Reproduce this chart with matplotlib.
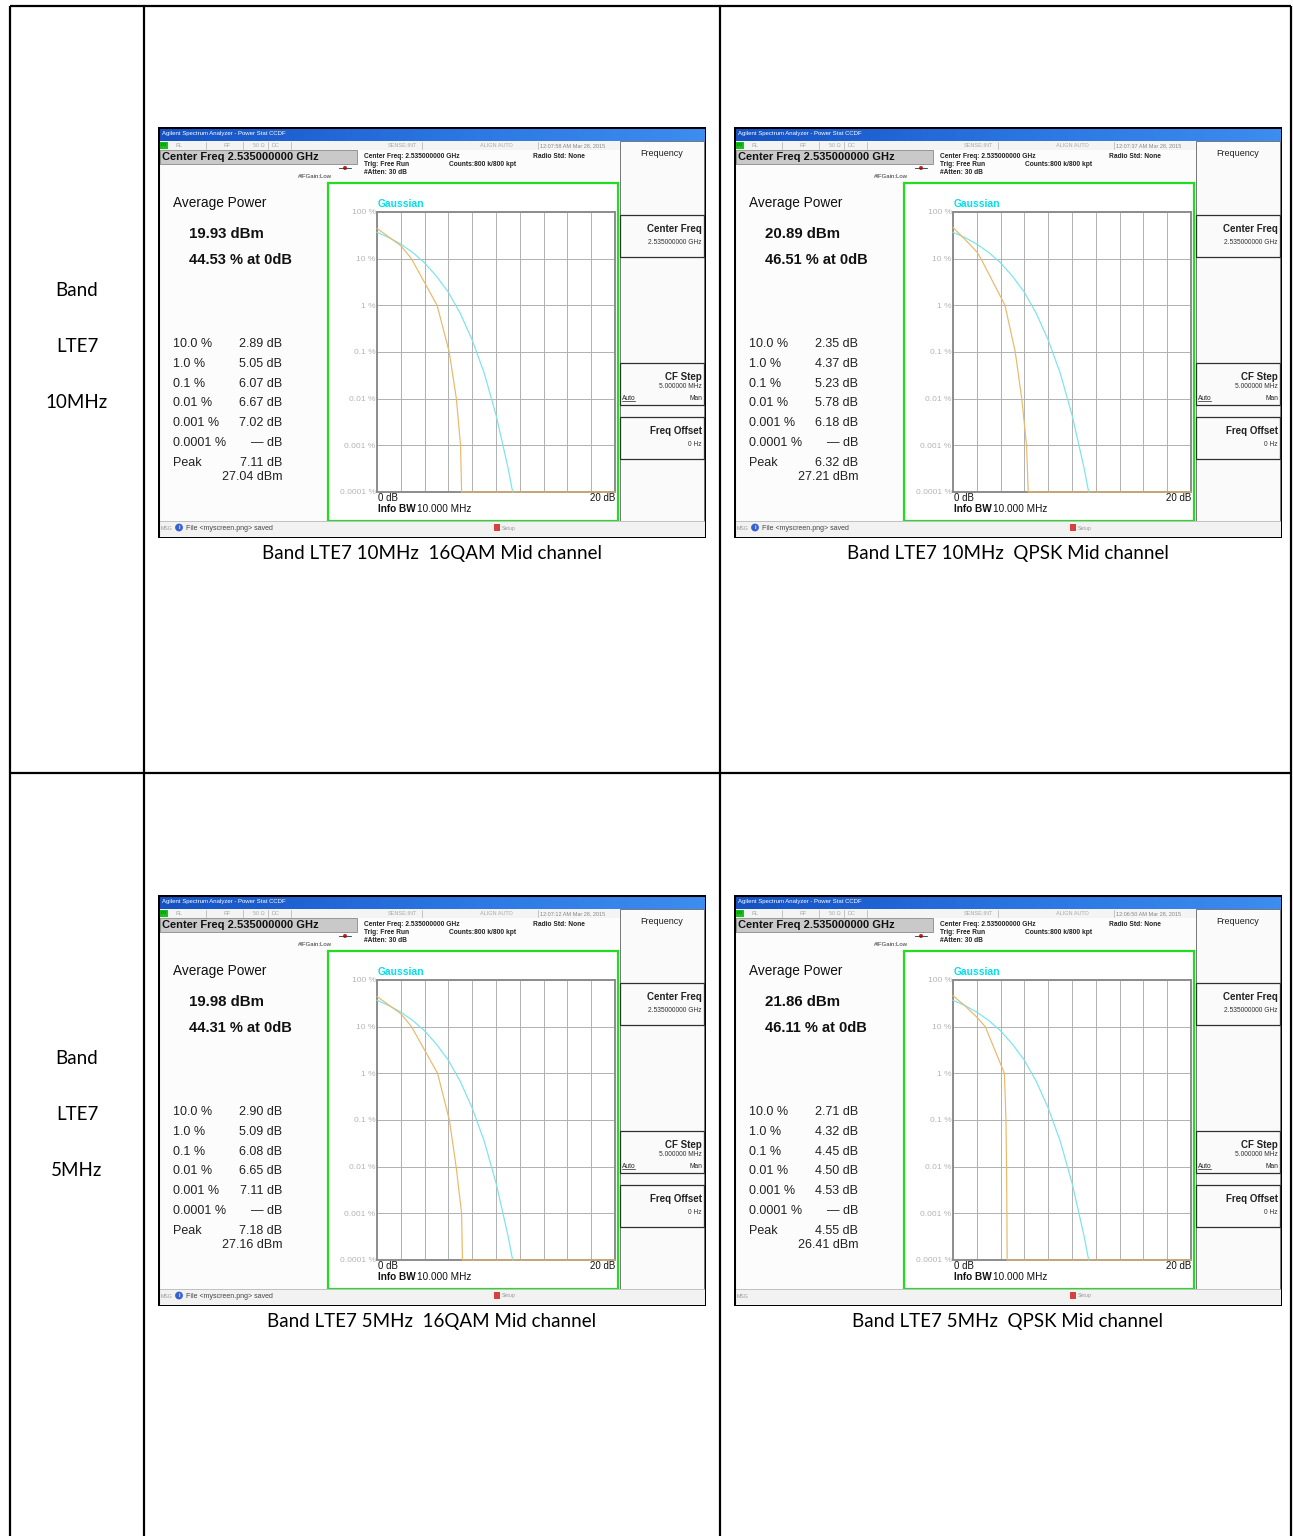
import numpy as np
import matplotlib
matplotlib.use("Agg")
import matplotlib.pyplot as plt
from matplotlib.patches import Rectangle, Circle
from matplotlib.colors import LinearSegmentedColormap

# CCDF measurements, one entry per screen (10MHz 16QAM, 10MHz QPSK, 5MHz 16QAM, 5MHz QPSK)
captions = ["Band LTE7 10MHz  16QAM Mid channel", "Band LTE7 10MHz  QPSK Mid channel",
            "Band LTE7 5MHz  16QAM Mid channel", "Band LTE7 5MHz  QPSK Mid channel"]
row_labels = [["Band", "LTE7", "10MHz"], ["Band", "LTE7", "5MHz"]]
avg_power = [19.93, 20.89, 19.98, 21.86]
pct_at_0db = [44.53, 46.51, 44.31, 46.11]
ccdf_levels = [10.0, 1.0, 0.1, 0.01, 0.001]
level_labels = ["10.0 %", "1.0 %", "0.1 %", "0.01 %", "0.001 %", "0.0001 %"]
ccdf_db = [[2.89, 5.05, 6.07, 6.67, 7.02],
           [2.35, 4.37, 5.23, 5.78, 6.18],
           [2.90, 5.09, 6.08, 6.65, 7.11],
           [2.71, 4.32, 4.45, 4.50, 4.53]]
peak_db = [7.11, 6.32, 7.18, 4.55]
peak_dbm = [27.04, 27.21, 27.16, 26.41]
# curve readings at 1 dB and 2 dB
early_pct = [[29, 19], [26, 14], [29, 19], [28, 16]]
times = ["12:07:58 AM Mar 28, 2015", "12:07:37 AM Mar 28, 2015",
         "12:07:12 AM Mar 28, 2015", "12:06:50 AM Mar 28, 2015"]
msgs = ["File <myscreen.png> saved", "File <myscreen.png> saved",
        "File <myscreen.png> saved", ""]

# Gaussian reference trace
gauss_db = [0, 1, 2, 3, 4, 5, 6, 7, 8, 9, 10, 11, 11.4]
gauss_pct = [36.8, 28.4, 20.5, 13.6, 8.1, 4.2, 1.9, 0.67, 0.18, 0.036, 0.0045, 0.00034, 0.0001]

W, H = 1293, 1536
fig = plt.figure(figsize=(W / 100, H / 100), dpi=100)
fig.patch.set_facecolor("white")

SCR = "Liberation Sans"
DOC = "Lato"


def rect(x, y, w, h):
    return [x / W, 1 - (y + h) / H, w / W, h / H]


# table grid
tab = fig.add_axes([0, 0, 1, 1])
tab.set_xlim(0, W)
tab.set_ylim(H, 0)
tab.axis("off")
for x in [10, 144, 720, 1291]:
    tab.plot([x, x], [6, H + 5], color="black", lw=1.6, solid_capstyle="butt")
for y in [6, 773]:
    tab.plot([10, 1291], [y, y], color="black", lw=1.6, solid_capstyle="butt")
for r, labels in enumerate(row_labels):
    for k, lab in enumerate(labels):
        tab.text(77, 290 + 768 * r + 56.5 * k, lab, ha="center", va="center",
                 fontsize=13.5, family=DOC)

origins = [(158, 127), (734, 127), (158, 895), (734, 895)]
blue = LinearSegmentedColormap.from_list("bar", ["#1552c4", "#2a74e0", "#3d8cf0"])


def screen(i, X, Y):
    ax = fig.add_axes(rect(X, Y, 548, 411))
    ax.axis("off")
    ax.add_patch(Rectangle((0, 0), 548, 411, facecolor="#fcfcfc", edgecolor="none", zorder=0.5))
    ax.imshow(np.linspace(0, 1, 64)[None, :], cmap=blue, extent=(0, 548, 14, 0),
              aspect="auto", zorder=2)
    ax.set_xlim(0, 548)
    ax.set_ylim(411, 0)
    t = dict(family=SCR, va="center")
    ax.text(4, 7, "Agilent Spectrum Analyzer - Power Stat CCDF", color="white", fontsize=4.3,
            zorder=3, **t)
    # status row
    ax.add_patch(Rectangle((0, 14), 462, 9, facecolor="#f4f4f4", edgecolor="none"))
    ax.add_patch(Rectangle((2, 15), 8, 7, facecolor="#18c018", edgecolor="none"))
    ax.text(3, 18.5, "LXI", color="#204020", fontsize=2.8, **t)
    for sx in [48, 85, 110, 133, 264, 380]:
        ax.plot([sx, sx], [15, 22], color="#b0b0b0", lw=0.5)
    for sx, s in [(17, "RL"), (66, "RF"), (95, "50 Ω"), (114, "DC"), (230, "SENSE:INT"),
                  (322, "ALIGN AUTO"), (382, times[i])]:
        ax.text(sx, 18.5, s, color="#a8a8a8" if sx < 380 else "#888888", fontsize=4, **t)
    # center frequency box
    ax.add_patch(Rectangle((2, 23), 197, 14, facecolor="#c9c9c9", edgecolor="#8a8a8a", lw=0.6))
    ax.text(4, 30.5, "Center Freq 2.535000000 GHz", fontsize=8, weight="bold", color="#111111", **t)
    ax.plot([181, 193], [41, 41], color="#333333", lw=0.6)
    ax.add_patch(Circle((187, 41), 1.3, color="#cc2020"))
    ax.text(140, 49, "#IFGain:Low", fontsize=4.3, color="#333333", **t)
    for yy, s in [(29, "Center Freq: 2.535000000 GHz"), (37, "Trig: Free Run"), (45, "#Atten: 30 dB")]:
        ax.text(206, yy, s, fontsize=4.8, weight="bold", color="#222222", **t)
    ax.text(291, 38, "Counts:800 k/800 kpt", fontsize=4.8, weight="bold", color="#222222", **t)
    ax.text(375, 29, "Radio Std: None", fontsize=4.8, weight="bold", color="#222222", **t)

    # measurement readout
    ax.text(15, 76, "Average Power", fontsize=9.8, color="#111111", **t)
    ax.text(31, 107, f"{avg_power[i]:.2f} dBm", fontsize=10.8, weight="bold", color="#111111", **t)
    ax.text(31, 133, f"{pct_at_0db[i]:.2f} % at 0dB", fontsize=10.5, weight="bold", color="#111111", **t)
    vals = [f"{v:.2f} dB" for v in ccdf_db[i]] + ["— dB"]
    for k, (lab, v) in enumerate(zip(level_labels, vals)):
        yy = 217 + 19.8 * k
        ax.text(15, yy, lab, fontsize=9, color="#222222", **t)
        ax.text(124, yy, v, fontsize=9, color="#222222", ha="right", family=SCR, va="center")
    ax.text(15, 336, "Peak", fontsize=9, color="#222222", **t)
    ax.text(124, 336, f"{peak_db[i]:.2f} dB", fontsize=9, color="#222222", ha="right", family=SCR, va="center")
    ax.text(124, 350, f"{peak_dbm[i]:.2f} dBm", fontsize=9, color="#222222", ha="right", family=SCR, va="center")

    # trace frame
    ax.add_patch(Rectangle((170, 56), 290, 338, facecolor="white", edgecolor="#22dd22", lw=1.6))
    ax.text(220, 77, "Gaussian", fontsize=7.4, weight="bold", color="#00e0ee", **t)
    ax.text(220, 371, "0 dB", fontsize=7, color="#111111", **t)
    ax.text(457, 371, "20 dB", fontsize=7, color="#111111", ha="right", family=SCR, va="center")
    ax.text(220, 382, "Info BW", fontsize=7.2, weight="bold", color="#111111", **t)
    ax.text(259, 382, "10.000 MHz", fontsize=7.2, color="#111111", **t)

    # softkey panel
    ax.add_patch(Rectangle((462, 14), 84, 380, facecolor="#fafafa", edgecolor="#606060", lw=0.6))
    ax.text(504, 26, "Frequency", fontsize=6.5, color="#222222", ha="center", family=SCR, va="center")
    for top in [88, 236, 290]:
        ax.add_patch(Rectangle((462, top), 84, 42, facecolor="#fafafa", edgecolor="#303030", lw=0.9))
    ax.text(544, 102, "Center Freq", fontsize=7, weight="bold", color="#222222", ha="right", family=SCR, va="center")
    ax.text(544, 115, "2.535000000 GHz", fontsize=4.8, color="#333333", ha="right", family=SCR, va="center")
    ax.text(544, 250, "CF Step", fontsize=7, weight="bold", color="#222222", ha="right", family=SCR, va="center")
    ax.text(544, 260, "5.000000 MHz", fontsize=4.8, color="#333333", ha="right", family=SCR, va="center")
    ax.text(464, 271, "Auto", fontsize=4.8, color="#222222", **t)
    ax.plot([464, 477], [274, 274], color="#222222", lw=0.5)
    ax.text(544, 271, "Man", fontsize=4.8, color="#222222", ha="right", family=SCR, va="center")
    ax.text(544, 304, "Freq Offset", fontsize=7, weight="bold", color="#222222", ha="right", family=SCR, va="center")
    ax.text(544, 318, "0 Hz", fontsize=4.8, color="#333333", ha="right", family=SCR, va="center")

    # message bar
    ax.add_patch(Rectangle((0, 394), 548, 15, facecolor="#f2f2f2", edgecolor="none"))
    ax.plot([0, 548], [394, 394], color="#b8b8b8", lw=0.6)
    ax.text(3, 401, "MSG", fontsize=3.8, color="#999999", **t)
    if msgs[i]:
        ax.add_patch(Circle((21, 400.5), 3.2, color="#3a5fd0"))
        ax.text(21, 400.5, "i", fontsize=4, color="white", ha="center", family=SCR, va="center", weight="bold")
        ax.text(28, 401, msgs[i], fontsize=5, color="#444444", **t)
    ax.add_patch(Rectangle((336, 397), 6, 7, facecolor="#d84040", edgecolor="none"))
    ax.text(344, 401, "Setup", fontsize=3.8, color="#999999", **t)
    ax.add_patch(Rectangle((0, 0), 548, 411, facecolor="none", edgecolor="black", lw=2.2, zorder=4))

    # CCDF plot
    p = fig.add_axes(rect(X + 219, Y + 85, 238, 280))
    p.set_yscale("log")
    p.set_xlim(0, 20)
    p.set_ylim(1e-4, 100)
    p.set_xticks(np.arange(0, 21, 2))
    p.set_yticks([100, 10, 1, 0.1, 0.01, 0.001, 0.0001])
    p.set_yticklabels(["100 %", "10 %", "1 %", "0.1 %", "0.01 %", "0.001 %", "0.0001 %"],
                      fontsize=6, color="#b4b4b4", family=SCR)
    p.minorticks_off()
    p.tick_params(length=0, pad=1)
    p.set_xticklabels([])
    p.grid(True, color="#b0b0b0", lw=0.7)
    for s in p.spines.values():
        s.set_color("#8c8c8c")
        s.set_linewidth(1.4)
    p.plot(gauss_db, gauss_pct, color="#78e4ec", lw=0.85, clip_on=False, zorder=3)
    mx = [0, 1, 2] + ccdf_db[i] + [peak_db[i], 20]
    my = [pct_at_0db[i]] + early_pct[i] + ccdf_levels + [1e-4, 1e-4]
    p.plot(mx, my, color="#eab868", lw=0.85, clip_on=False, zorder=4)

    tab.text(X + 274, Y + 426, captions[i], ha="center", va="center", fontsize=13.5, family=DOC)


for i, (X, Y) in enumerate(origins):
    screen(i, X, Y)

fig.savefig("out.png", dpi=100)
